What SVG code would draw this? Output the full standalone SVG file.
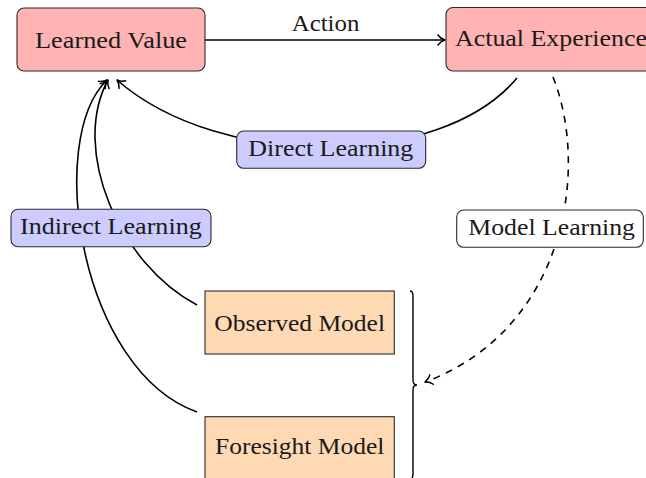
<svg xmlns="http://www.w3.org/2000/svg" width="646" height="478" viewBox="0 0 646 478">
  <style>
    .lbl { font-size: 24px; fill: #1a1a1a; }
    .box { stroke: #2a2a2a; stroke-width: 1.1; }
    .red { fill: #ffb3b3; }
    .blue { fill: #ccccff; }
    .white { fill: #ffffff; }
    .orange { fill: #ffd9b3; }
    .edge { fill: none; stroke: #000; stroke-width: 1.6; }
    .dash { stroke-dasharray: 7 6.5; }
  </style>
  <defs>
    <marker id="arr" markerUnits="userSpaceOnUse" viewBox="-10 -7 12 14" refX="0" refY="0" markerWidth="12" markerHeight="14" orient="auto" overflow="visible">
      <path d="M-7,-5 C-5,-2 -2,-0.6 0,0 C-2,0.6 -5,2 -7,5" fill="none" stroke="#000" stroke-width="1.5" stroke-linecap="round" stroke-linejoin="round" stroke-dasharray="none"/>
    </marker>
  </defs>

  <g font-family="'Liberation Serif', 'DejaVu Serif', serif">
  <g id="connectors">
    <path id="e-action" class="edge" d="M205,40 L445,40" marker-end="url(#arr)"/>
    <text class="lbl" x="291.7" y="31" textLength="67.7" lengthAdjust="spacingAndGlyphs">Action</text>
    <path id="e-direct" class="edge" d="M517,78 C440,170 220,170 117,80" marker-end="url(#arr)"/>
    <path id="e-observed" class="edge" d="M197,305 C120,265 70,150 108,80" marker-end="url(#arr)"/>
    <path id="e-foresight" class="edge" d="M197,412 C80,370 45,140 107,80" marker-end="url(#arr)"/>
    <path id="e-model" class="edge dash" d="M553,77 C590,170 565,330 425,382" marker-end="url(#arr)"/>
    <path id="brace" fill="none" stroke="#000" stroke-width="1.4" d="M410,291 Q413,291 413,296 L413,380 Q413,385 417,385 Q413,385 413,390 L413,474 Q413,479 410,479"/>
  </g>

  <g id="learned-value">
    <rect class="box red" x="17" y="8" width="188" height="63" rx="7"/>
    <text class="lbl" x="35" y="48" textLength="152" lengthAdjust="spacingAndGlyphs">Learned Value</text>
  </g>
  <g id="actual-experience">
    <rect class="box red" x="446" y="7.5" width="215" height="63.5" rx="7"/>
    <text class="lbl" x="455" y="45.5" textLength="192" lengthAdjust="spacingAndGlyphs">Actual Experience</text>
  </g>
  <g id="direct-learning">
    <rect class="box blue" x="236.7" y="131" width="189" height="37.3" rx="7"/>
    <text class="lbl" x="248.3" y="156" textLength="165" lengthAdjust="spacingAndGlyphs">Direct Learning</text>
  </g>
  <g id="indirect-learning">
    <rect class="box blue" x="11" y="209.3" width="200" height="37.4" rx="7"/>
    <text class="lbl" x="20" y="234.3" textLength="181.7" lengthAdjust="spacingAndGlyphs">Indirect Learning</text>
  </g>
  <g id="model-learning">
    <rect class="box white" x="456.7" y="210" width="186.6" height="37.3" rx="7"/>
    <text class="lbl" x="468.3" y="234.8" textLength="166.7" lengthAdjust="spacingAndGlyphs">Model Learning</text>
  </g>
  <g id="observed-model">
    <rect class="box orange" x="205" y="291" width="189.3" height="63"/>
    <text class="lbl" x="214.3" y="331" textLength="170.7" lengthAdjust="spacingAndGlyphs">Observed Model</text>
  </g>
  <g id="foresight-model">
    <rect class="box orange" x="205" y="416.7" width="189.3" height="63"/>
    <text class="lbl" x="215" y="454.3" textLength="169.3" lengthAdjust="spacingAndGlyphs">Foresight Model</text>
  </g>
  </g>
</svg>
